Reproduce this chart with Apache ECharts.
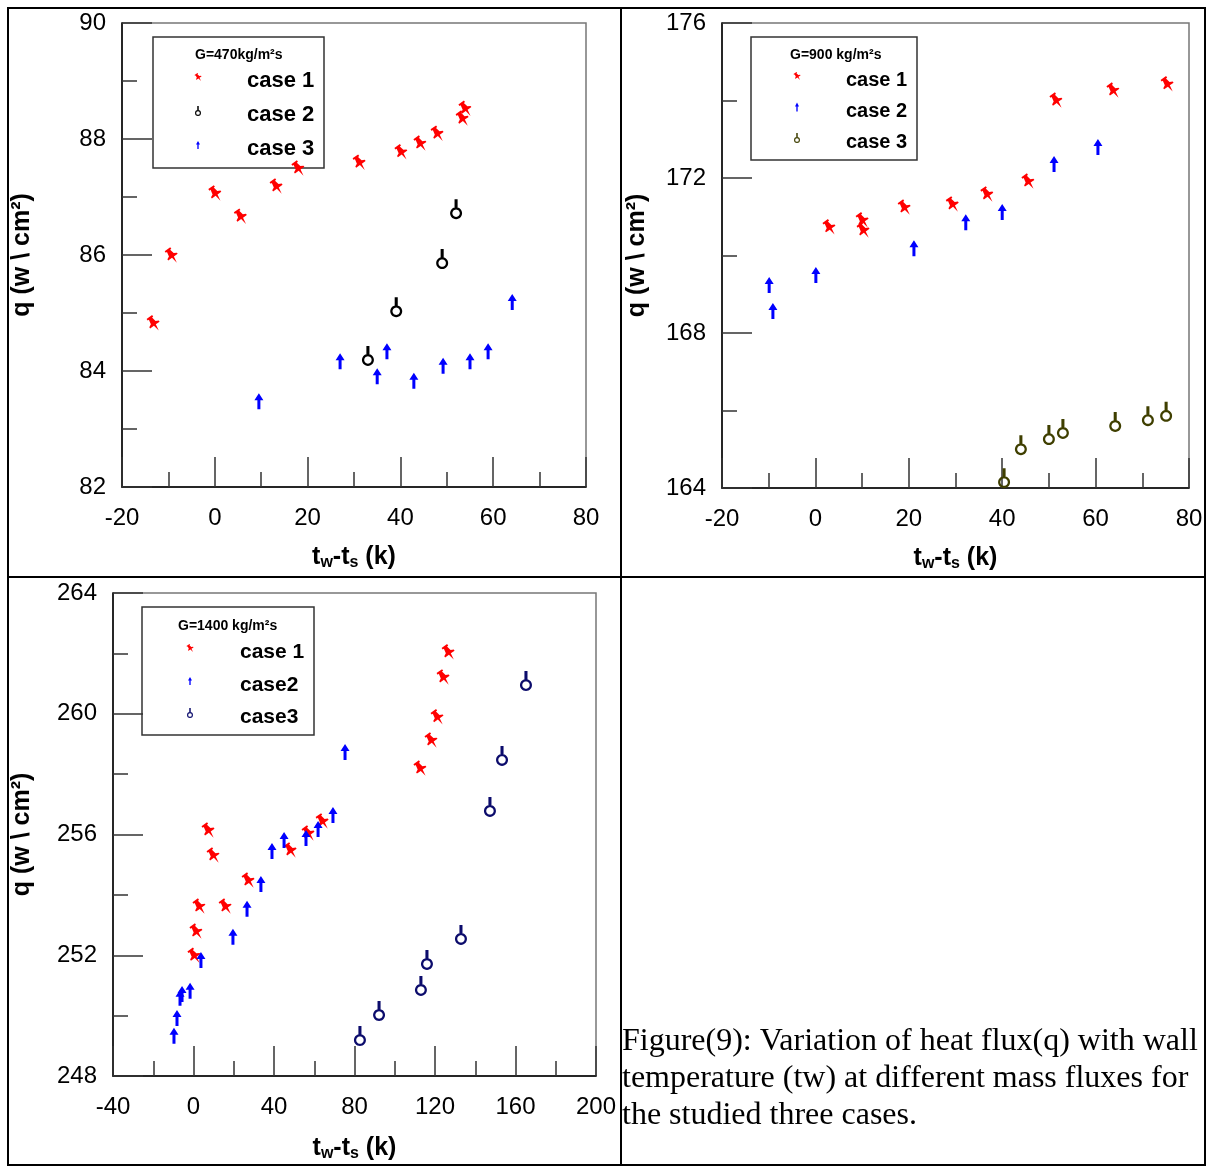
<!DOCTYPE html>
<html>
<head>
<meta charset="utf-8">
<script src="https://cdn.jsdelivr.net/npm/echarts@6/dist/echarts.min.js"></script>
<style>
html,body{margin:0;padding:0;background:#fff;}
#chart{width:1210px;height:1167px;}
</style>
</head>
<body>
<div id="chart"></div>
<script>
// ---------- data (x = tw - ts [K], y = q [W/cm2]) ----------
const p1Case1 = [[-13.3,84.83],[-9.4,86.0],[0.0,87.07],[5.5,86.67],[13.2,87.19],[17.9,87.5],[31.1,87.6],[40.1,87.78],[44.2,87.93],[47.9,88.1],[53.3,88.36],[53.9,88.53]];
const p1Case2 = [[33.0,84.19],[39.1,85.03],[49.0,85.86],[52.0,86.72]];
const p1Case3 = [[9.5,83.48],[27.0,84.17],[35.0,83.91],[37.1,84.34],[42.9,83.83],[49.2,84.09],[55.0,84.17],[58.9,84.34],[64.1,85.19]];

const p2Case1 = [[2.9,170.74],[10.0,170.92],[10.2,170.66],[19.0,171.25],[29.3,171.33],[36.7,171.59],[45.5,171.92],[51.5,174.01],[63.7,174.27],[75.3,174.43]];
const p2Case2 = [[-9.9,169.24],[-9.1,168.57],[0.1,169.5],[21.1,170.19],[32.2,170.86],[40.0,171.12],[51.1,172.36],[60.5,172.8]];
const p2Case3 = [[40.4,164.15],[44.0,165.0],[50.0,165.26],[53.0,165.42],[64.2,165.6],[71.2,165.75],[75.1,165.86]];

const p3Case1 = [[7.2,256.15],[9.7,255.32],[27.1,254.49],[2.7,253.63],[15.7,253.63],[1.2,252.8],[0.2,252.0],[48.0,255.49],[56.9,256.05],[63.9,256.45],[112.5,258.2],[118.0,259.13],[121.0,259.9],[124.0,261.22],[126.5,262.05]];
const p3Case2 = [[-9.7,249.33],[-8.2,249.92],[-6.7,250.59],[-5.7,250.72],[-1.7,250.82],[3.7,251.84],[19.6,252.61],[26.6,253.54],[33.5,254.36],[39.0,255.45],[45.0,255.82],[55.9,255.88],[61.9,256.18],[69.3,256.65],[75.3,258.73]];
const p3Case3 = [[82.7,249.19],[92.2,250.02],[113.0,250.85],[116.0,251.71],[132.9,252.54],[147.3,256.78],[153.3,258.47],[165.2,260.95]];

// axis ranges [min, max, interval]
const p1X = [-20, 80, 20], p1Y = [82, 90, 2];
const p2X = [-20, 80, 20], p2Y = [164, 176, 4];
const p3X = [-40, 200, 40], p3Y = [248, 264, 4];

const legendTitles = ['G=470kg/m²s', 'G=900 kg/m²s', 'G=1400 kg/m²s'];
const legend1 = ['case 1', 'case 2', 'case 3'];
const legend2 = ['case 1', 'case 2', 'case 3'];
const legend3 = ['case 1', 'case2', 'case3'];
const caption = 'Figure(9): Variation of heat flux(q) with wall\ntemperature (tw) at different mass fluxes for\nthe studied three cases.';

// ---------- symbol shapes ----------
const PIN_PTS = [[-8.61,-6.18],[-2.87,-10.2],[-1.73,-8.56],[-2.95,-7.70],[0.74,-4.18],[4.05,-4.67],[4.91,-3.44],[0.98,-0.69],[4.02,5.73],[-0.98,0.69],[-4.91,3.44],[-5.78,2.22],[-4.18,-0.74],[-6.23,-5.40],[-7.46,-4.54]];
const ARROW_PTS = [[0,-8],[4.5,-1],[1.5,-1],[1.5,8],[-1.5,8],[-1.5,-1],[-4.5,-1]];
function polyPath(p){ return 'M' + p.map(function(q){return q[0].toFixed(2) + ',' + q[1].toFixed(2);}).join(' L') + ' Z'; }
function circlePts(r, ccw){
  const out = [];
  for (let k = 0; k < 28; k++) { const a = (ccw ? -1 : 1) * k / 28 * Math.PI * 2; out.push([r*Math.sin(a), -r*Math.cos(a)]); }
  return out;
}
// key: stick (x -1.4..1.4, y -13..-5) + ring (outer r 5.5, inner r 3.4), ring centre at origin
const KEY_D = polyPath([[-1.4,-13],[1.4,-13],[1.4,-5],[-1.4,-5]]) + ' ' + polyPath(circlePts(5.5,false)) + ' ' + polyPath(circlePts(3.4,true));
const PIN = 'path://' + polyPath(PIN_PTS), KEY = 'path://' + KEY_D, ARROW = 'path://' + polyPath(ARROW_PTS);

const RED = '#ff0000', BLUE = '#0000ff', BLACK = '#000000', OLIVE = '#3f3f00', NAVY = '#0c0c6c';
const FONT = '"Liberation Sans", Arial, sans-serif';

const grids = [
  {left:122, top:23, width:464, height:464},
  {left:722, top:23, width:467, height:465},
  {left:113, top:593, width:483, height:483}
];

function xAxis(i, r, gap) {
  return {
    gridIndex:i, type:'value', min:r[0], max:r[1], interval:r[2],
    axisLine:{show:true, onZero:false, lineStyle:{color:'#000', width:1.5}},
    axisTick:{show:true, inside:true, length:30, lineStyle:{color:'#333', width:1.5}},
    minorTick:{show:true, splitNumber:2, length:15, lineStyle:{color:'#333', width:1.5}},
    splitLine:{show:false},
    axisLabel:{fontSize:24, color:'#000', fontFamily:FONT, margin:19, showMinLabel:true, showMaxLabel:true},
    name:'{b|t}{s|w}{b|-t}{s|s}{b| (k)}', nameLocation:'middle', nameGap:gap,
    nameTextStyle:{rich:{
      b:{fontSize:25, fontWeight:'bold', fontFamily:FONT, color:'#000'},
      s:{fontSize:16, fontWeight:'bold', fontFamily:FONT, color:'#000', padding:[11,0,0,0]}
    }}
  };
}
function yAxis(i, r, gap) {
  return {
    gridIndex:i, type:'value', min:r[0], max:r[1], interval:r[2],
    axisLine:{show:true, onZero:false, lineStyle:{color:'#000', width:1.5}},
    axisTick:{show:true, inside:true, length:30, lineStyle:{color:'#333', width:1.5}},
    minorTick:{show:true, splitNumber:2, length:15, lineStyle:{color:'#333', width:1.5}},
    splitLine:{show:false},
    axisLabel:{fontSize:24, color:'#000', fontFamily:FONT, margin:16, showMinLabel:true, showMaxLabel:true},
    name:'q (w \\ cm²)', nameLocation:'middle', nameGap:gap,
    nameTextStyle:{fontSize:25, fontWeight:'bold', fontFamily:FONT, color:'#000'}
  };
}
function sc(name, xi, data, sym, size, color, offset) {
  return {
    type:'scatter', name:name, xAxisIndex:xi, yAxisIndex:xi, data:data, z:10,
    symbol:sym, symbolSize:size, symbolKeepAspect:false, symbolOffset:offset || [0,0],
    itemStyle:{color:color, opacity:1}, clip:false, silent:true
  };
}
const KEY_OFF = [0, '-20.3%'];
const PIN_SIZE = [13,15.5], ARROW_SIZE = [9,16], KEY_SIZE = [12,20];

// ---------- graphics: table borders, legends, caption ----------
const g = [];
g.push({type:'rect', shape:{x:8, y:8, width:1197, height:1157}, style:{fill:'none', stroke:'#000', lineWidth:2}, z:100});
g.push({type:'line', shape:{x1:621, y1:8, x2:621, y2:1165}, style:{stroke:'#000', lineWidth:2}, z:100});
g.push({type:'line', shape:{x1:8, y1:577, x2:1205, y2:577}, style:{stroke:'#000', lineWidth:2}, z:100});

function bbox(p){
  let x0=1e9,x1=-1e9,y0=1e9,y1=-1e9;
  p.forEach(function(q){x0=Math.min(x0,q[0]);x1=Math.max(x1,q[0]);y0=Math.min(y0,q[1]);y1=Math.max(y1,q[1]);});
  return [x0,x1,y0,y1];
}
function iconPoly(pts, cx, cy, w, h, color){
  const b = bbox(pts), sx = w/(b[1]-b[0]), sy = h/(b[3]-b[2]);
  const mx = (b[0]+b[1])/2, my = (b[2]+b[3])/2;
  return {type:'polygon', shape:{points:pts.map(function(q){return [cx+(q[0]-mx)*sx, cy+(q[1]-my)*sy];})}, style:{fill:color}, z:1};
}
function iconKey(cx, cy, h, color){
  const s = h/18.5;
  const ccy = cy + 3.75*s;
  return {type:'group', children:[
    {type:'rect', shape:{x:cx-1.4*s, y:ccy-13*s, width:2.8*s, height:8*s}, style:{fill:color}, z:1},
    {type:'ring', shape:{cx:cx, cy:ccy, r:5.5*s, r0:3.4*s}, style:{fill:color}, z:1}
  ]};
}

function legendBox(box, title, titlePos, labels, labelX, ys, mx, fontSize, icons) {
  g.push({type:'rect', shape:box, style:{fill:'#fff', stroke:'#333', lineWidth:1.5}, z:0});
  g.push({type:'text', x:titlePos[0], y:titlePos[1], style:{text:title, font:'bold 14px ' + FONT, fill:'#000', verticalAlign:'middle'}, z:1});
  labels.forEach(function(t, k){
    g.push({type:'text', x:labelX, y:ys[k], style:{text:t, font:'bold ' + fontSize + 'px ' + FONT, fill:'#000', verticalAlign:'middle'}, z:1});
    const ic = icons[k], cy = ys[k] - 4;
    if (ic[0] === 'key') g.push(iconKey(mx, cy, ic[2], ic[3]));
    else g.push(iconPoly(ic[0], mx, cy, ic[1], ic[2], ic[3]));
  });
}
legendBox({x:153, y:37, width:171, height:131}, legendTitles[0], [195, 55], legend1, 247, [81, 115, 149], 198, 22,
  [[PIN_PTS, 7, 8, RED], ['key', 5, 10, BLACK], [ARROW_PTS, 4, 8, BLUE]]);
legendBox({x:751, y:37, width:166, height:123}, legendTitles[1], [790, 55], legend2, 846, [80, 111, 142], 797, 20,
  [[PIN_PTS, 7, 8, RED], [ARROW_PTS, 4, 9, BLUE], ['key', 5, 10, OLIVE]]);
legendBox({x:142, y:607, width:172, height:128}, legendTitles[2], [178, 626], legend3, 240, [652, 685, 717], 190, 21,
  [[PIN_PTS, 7, 8, RED], [ARROW_PTS, 4, 8, BLUE], ['key', 5, 10, NAVY]]);

g.push({type:'text', x:622, y:1023, style:{text:caption, font:'32px "Liberation Serif", "Times New Roman", serif', fill:'#000', lineHeight:37}, z:1});

const chart = echarts.init(document.getElementById('chart'), null, {renderer:'canvas'});
chart.setOption({
  animation:false,
  backgroundColor:'#fff',
  grid: grids.map(function(gr){ return Object.assign({show:true, borderColor:'#777', borderWidth:1.5, backgroundColor:'transparent', outerBoundsMode:'none'}, gr); }),
  xAxis:[xAxis(0, p1X, 57), xAxis(1, p2X, 57), xAxis(2, p3X, 59)],
  yAxis:[yAxis(0, p1Y, 87), yAxis(1, p2Y, 72), yAxis(2, p3Y, 78)],
  series:[
    sc('case 1', 0, p1Case1, PIN, PIN_SIZE, RED),
    sc('case 2', 0, p1Case2, KEY, KEY_SIZE, BLACK, KEY_OFF),
    sc('case 3', 0, p1Case3, ARROW, ARROW_SIZE, BLUE),
    sc('case 1', 1, p2Case1, PIN, PIN_SIZE, RED),
    sc('case 2', 1, p2Case2, ARROW, ARROW_SIZE, BLUE),
    sc('case 3', 1, p2Case3, KEY, KEY_SIZE, OLIVE, KEY_OFF),
    sc('case 1', 2, p3Case1, PIN, PIN_SIZE, RED),
    sc('case2', 2, p3Case2, ARROW, ARROW_SIZE, BLUE),
    sc('case3', 2, p3Case3, KEY, KEY_SIZE, NAVY, KEY_OFF)
  ],
  graphic: g
});
</script>
</body>
</html>
